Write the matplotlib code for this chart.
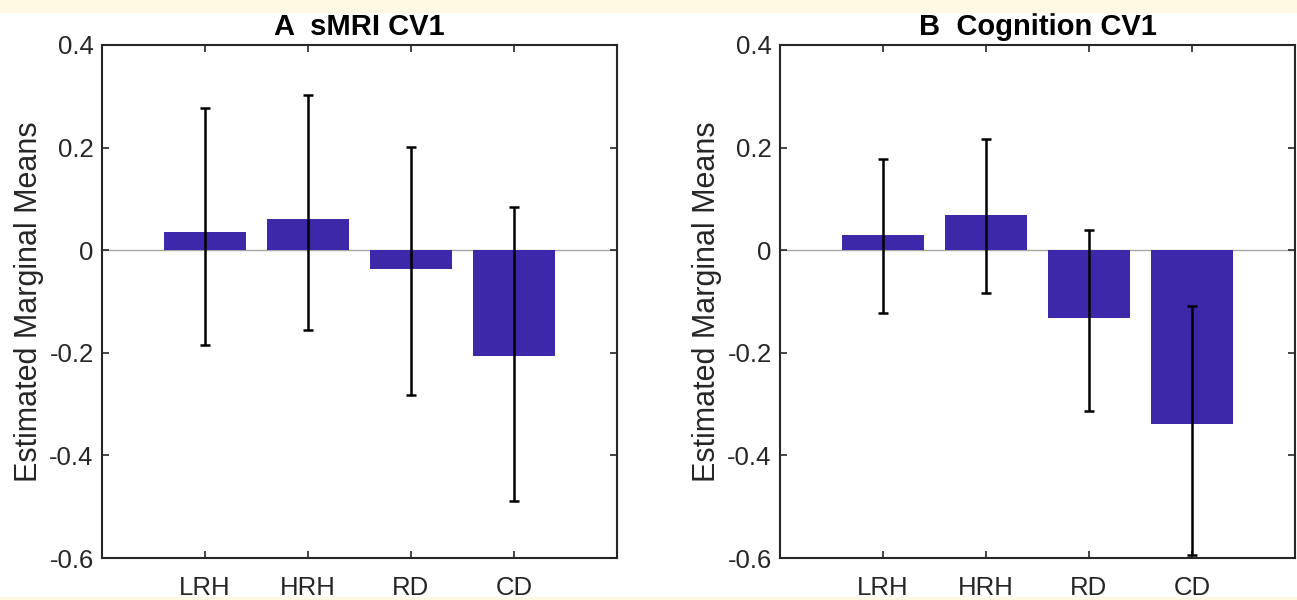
import matplotlib
matplotlib.use("Agg")
import matplotlib.pyplot as plt
import numpy as np
from matplotlib.patches import Rectangle

plt.rcParams['font.family'] = ['Liberation Sans', 'DejaVu Sans']
plt.rcParams['axes.unicode_minus'] = False

groups = ['LRH', 'HRH', 'RD', 'CD']

# panel A: sMRI CV1
smri_mean = [0.035, 0.061, -0.037, -0.206]
smri_low = [-0.184, -0.155, -0.283, -0.489]
smri_high = [0.278, 0.303, 0.202, 0.085]

# panel B: Cognition CV1
cog_mean = [0.029, 0.069, -0.133, -0.338]
cog_low = [-0.123, -0.083, -0.313, -0.595]
cog_high = [0.177, 0.217, 0.039, -0.109]

titles = ['A  sMRI CV1', 'B  Cognition CV1']
yticks = [-0.6, -0.4, -0.2, 0, 0.2, 0.4]
ytick_labels = ['-0.6', '-0.4', '-0.2', '0', '0.2', '0.4']

bar_color = '#3C28A8'
axis_color = '#262626'

W, H = 1297, 600
fig = plt.figure(figsize=(W / 100, H / 100), dpi=100)
fig.patch.set_facecolor('white')

# page background strips above and below the figure
fig.patches.append(Rectangle((0, 1 - 12 / H), 1, 12 / H, transform=fig.transFigure,
                             color='#FFF8E2', zorder=0))
fig.patches.append(Rectangle((0, 0), 1, 3 / H, transform=fig.transFigure,
                             color='#FFF8E2', zorder=0))

panels = [
    (smri_mean, smri_low, smri_high),
    (cog_mean, cog_low, cog_high),
]
lefts = [102, 780]

for i, (mean, low, high) in enumerate(panels):
    ax = fig.add_axes([lefts[i] / W, 1 - 558 / H, 515 / W, 513 / H])
    x = np.arange(1, len(groups) + 1)
    mean = np.array(mean)
    err = [mean - np.array(low), np.array(high) - mean]

    ax.axhline(0, color='#a6a6a6', lw=1.0, zorder=1)
    ax.bar(x, mean, width=0.8, color=bar_color, zorder=2)
    ax.errorbar(x, mean, yerr=err, fmt='none', ecolor='black', elinewidth=1.8,
                capsize=3.5, capthick=1.8, zorder=3)

    ax.set_xlim(0, 5)
    ax.set_ylim(-0.6, 0.4)
    ax.set_xticks(x)
    ax.set_xticklabels(groups)
    ax.set_yticks(yticks)
    ax.set_yticklabels(ytick_labels)

    ax.tick_params(direction='in', top=True, right=True, length=5, width=1.2,
                   color=axis_color, labelcolor=axis_color, labelsize=18.5)
    ax.tick_params(axis='x', pad=13)
    ax.tick_params(axis='y', pad=6)
    for s in ax.spines.values():
        s.set_color(axis_color)
        s.set_linewidth(1.5)

    ax.set_ylabel('Estimated Marginal Means', fontsize=22, color=axis_color, labelpad=4)
    ax.set_title(titles[i], fontsize=21, fontweight='bold', pad=7)

fig.savefig('out.png', dpi=100)
